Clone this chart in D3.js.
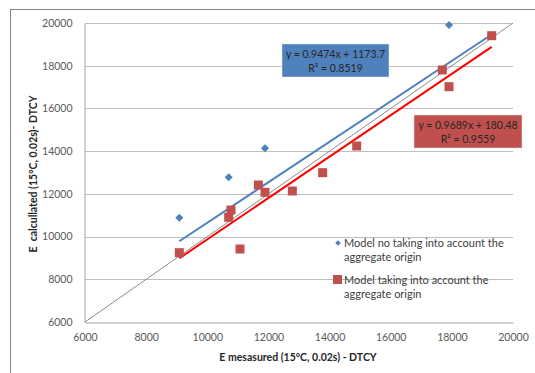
<!DOCTYPE html>
<html>
<head>
<meta charset="utf-8">
<script src="https://cdn.jsdelivr.net/npm/d3@7"></script>
<style>
  body { margin: 0; background: #fff; }
  text { font-family: Lato, "Noto Sans", sans-serif; }
</style>
</head>
<body>
<div id="chart"></div>
<script>
var noOriginX = [9085, 10700, 11888, 17907, 10776, 11670, 17688, 19303];
var noOriginY = [10884, 12775, 14133, 19906, 11244, 12415, 17800, 19406];
var originX = [9085, 10776, 10700, 11070, 11670, 11888, 12782, 13774, 14887, 17688, 17907, 19303];
var originY = [9245, 11244, 10902, 9418, 12415, 12073, 12134, 12991, 14241, 17800, 17018, 19406];
var axisTicks = [6000, 8000, 10000, 12000, 14000, 16000, 18000, 20000];
var fitNoOrigin = { slope: 0.9474, intercept: 1173.7, label: "y = 0.9474x + 1173.7", r2: "R² = 0.8519" };
var fitOrigin = { slope: 0.9689, intercept: 180.48, label: "y = 0.9689x + 180.48", r2: "R² = 0.9559" };
var legendNames = ["Model no taking into account the", "aggregate origin", "Model taking into account the", "aggregate origin"];

var width = 535, height = 373;
var blue = "#4F81BD", red = "#C0504D";

var svg = d3.select("#chart").append("svg")
  .attr("width", width)
  .attr("height", height);

// outer chart frame (runs off the right and bottom like the source)
svg.append("rect")
  .attr("x", 10.5).attr("y", 9.5)
  .attr("width", 600).attr("height", 400)
  .attr("fill", "none").attr("stroke", "#868686");

var x = d3.scaleLinear().domain([6000, 20000]).range([85, 513]);
var y = d3.scaleLinear().domain([6000, 20000]).range([322, 23]);

// horizontal grid
svg.append("g")
  .selectAll("line")
  .data(axisTicks.slice(1))
  .enter().append("line")
    .attr("x1", x(6000)).attr("x2", x(20000))
    .attr("y1", function(d) { return Math.round(y(d)) + 0.5; })
    .attr("y2", function(d) { return Math.round(y(d)) + 0.5; })
    .attr("stroke", "#BFBFBF");

var xAxis = svg.append("g")
  .attr("transform", "translate(0," + (Math.round(y(6000)) + 0.5) + ")")
  .call(d3.axisBottom(x).tickValues(axisTicks).tickSize(0).tickPadding(11).tickFormat(d3.format("d")));
var yAxis = svg.append("g")
  .attr("transform", "translate(" + (Math.round(x(6000)) - 0.5) + ",0)")
  .call(d3.axisLeft(y).tickValues(axisTicks).tickSize(0).tickPadding(12).tickFormat(d3.format("d")));
[xAxis, yAxis].forEach(function(a) {
  a.select(".domain").attr("stroke", "#A6A6A6");
  a.selectAll(".tick text").attr("font-size", "10.5px").attr("fill", "#595959")
    .style("font-family", "Lato, 'Noto Sans', sans-serif");
});

// 1:1 line
svg.append("line")
  .attr("x1", x(6000)).attr("y1", y(6000))
  .attr("x2", x(20000)).attr("y2", y(20000))
  .attr("stroke", "#8C8C8C").attr("stroke-width", 1);

// trend lines drawn from the fitted equations over each series' range
function trend(xs, fit, color) {
  var ext = d3.extent(xs);
  svg.append("line")
    .attr("x1", x(ext[0])).attr("y1", y(fit.slope * ext[0] + fit.intercept))
    .attr("x2", x(ext[1])).attr("y2", y(fit.slope * ext[1] + fit.intercept))
    .attr("stroke", color).attr("stroke-width", 2);
}
trend(noOriginX, fitNoOrigin, blue);
trend(originX, fitOrigin, "#FF0000");

var diamond = d3.symbol().type(d3.symbolDiamond2).size(42);

svg.append("g").selectAll("path")
  .data(noOriginX)
  .enter().append("path")
    .attr("d", diamond)
    .attr("transform", function(d, i) { return "translate(" + x(d) + "," + y(noOriginY[i]) + ")"; })
    .attr("fill", blue);

svg.append("g").selectAll("rect")
  .data(originX)
  .enter().append("rect")
    .attr("x", function(d) { return x(d) - 4.5; })
    .attr("y", function(d, i) { return y(originY[i]) - 4.5; })
    .attr("width", 9).attr("height", 9)
    .attr("fill", red);

// equation boxes
function eqBox(bx, by, bw, bh, fill, fit) {
  svg.append("rect")
    .attr("x", bx).attr("y", by).attr("width", bw).attr("height", bh)
    .attr("fill", fill).attr("stroke", "#E6E6E6").attr("stroke-width", 0.5);
  svg.append("text")
    .attr("x", bx + bw / 2).attr("y", by + 14)
    .attr("text-anchor", "middle").attr("font-size", "10.5px").attr("fill", "#262626")
    .text(fit.label);
  svg.append("text")
    .attr("x", bx + bw / 2).attr("y", by + 28)
    .attr("text-anchor", "middle").attr("font-size", "10.5px").attr("fill", "#262626")
    .text(fit.r2);
}
eqBox(282, 44, 107, 33, blue, fitNoOrigin);
eqBox(414, 115, 108, 33, red, fitOrigin);

// legend
var leg = svg.append("g");
leg.append("path").attr("d", d3.symbol().type(d3.symbolDiamond2).size(20))
  .attr("transform", "translate(338,243)").attr("fill", blue);
leg.append("rect").attr("x", 333).attr("y", 275).attr("width", 9).attr("height", 9).attr("fill", red);
var legY = [247, 261, 284, 298];
leg.selectAll("text")
  .data(legendNames)
  .enter().append("text")
    .attr("x", 344).attr("y", function(d, i) { return legY[i]; })
    .attr("font-size", "11px").attr("fill", "#404040")
    .text(function(d) { return d; });

// axis titles
svg.append("text")
  .attr("x", 298).attr("y", 361)
  .attr("text-anchor", "middle").attr("font-size", "10.5px").attr("font-weight", "bold").attr("fill", "#262626")
  .text("E mesasured (15°C, 0.02s) - DTCY");
svg.append("text")
  .attr("transform", "translate(37,174) rotate(-90)")
  .attr("text-anchor", "middle").attr("font-size", "10.5px").attr("font-weight", "bold").attr("fill", "#262626")
  .attr("xml:space", "preserve").style("white-space", "pre")
  .text("E  calcullated (15°C, 0.02s)- DTCY");
</script>
</body>
</html>
